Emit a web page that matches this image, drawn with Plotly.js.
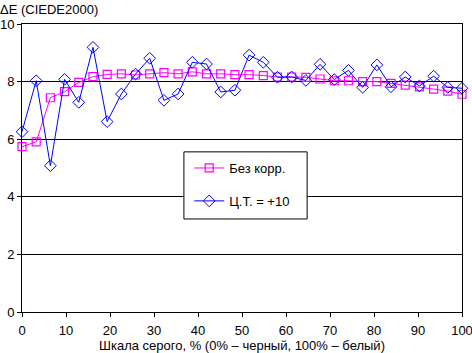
<!DOCTYPE html>
<html>
<head>
<meta charset="utf-8">
<script src="https://cdn.plot.ly/plotly-3.0.1.min.js"></script>
<style>html,body{margin:0;padding:0;background:#fff;}#chart{width:472px;height:353px;}</style>
</head>
<body>
<div id="chart"></div>
<script>
// gray scale levels, % (32 steps)
const grayLevels = [0,3.23,6.45,9.68,12.9,16.13,19.35,22.58,25.81,29.03,32.26,35.48,38.71,41.94,45.16,48.39,51.61,54.84,58.06,61.29,64.52,67.74,70.97,74.19,77.42,80.65,83.87,87.1,90.32,93.55,96.77,100];
const seriesNames = ["Без корр.", "Ц.Т. = +10"];
const noCorr = [5.74,5.91,7.44,7.65,7.97,8.17,8.25,8.27,8.23,8.27,8.31,8.27,8.34,8.27,8.27,8.24,8.24,8.21,8.16,8.16,8.15,8.09,8.03,8.03,8.00,8.00,7.94,7.88,7.82,7.74,7.67,7.56];
const ct10 = [6.26,8.03,5.08,8.08,7.28,9.19,6.61,7.57,8.26,8.81,7.35,7.57,8.67,8.61,7.64,7.70,8.92,8.67,8.15,8.16,8.04,8.60,8.07,8.39,7.80,8.58,7.82,8.16,7.85,8.19,7.80,7.77];
const xTicks = [0,10,20,30,40,50,60,70,80,90,100];
const yTicks = [0,2,4,6,8,10];

const font = {family: "Liberation Sans, Arial, sans-serif", size: 13, color: "#000"};
const traces = [
  {x: grayLevels, y: noCorr, name: seriesNames[0], legendgroup: "a", type: "scatter", mode: "lines+markers", cliponaxis: false,
   line: {color: "#FF00FF", width: 1},
   marker: {symbol: "square-open", size: 8, color: "#FF00FF", line: {width: 1.2, color: "#FF00FF"}}},
  {x: grayLevels, y: ct10, name: seriesNames[1], legendgroup: "b", type: "scatter", mode: "lines+markers", cliponaxis: false,
   line: {color: "#0000FF", width: 1},
   marker: {symbol: "diamond-open", size: 9, color: "#0000FF", line: {width: 1, color: "#0000FF"}}}
];
const layout = {
  width: 472, height: 353,
  margin: {l: 22, r: 10, t: 24, b: 41},
  paper_bgcolor: "#fff", plot_bgcolor: "#fff",
  font: font,
  showlegend: true,
  title: {text: "ΔE (CIEDE2000)", font: font, x: 0, xref: "container", xanchor: "left", y: 0.972, yanchor: "middle", pad: {l: 0}},
  xaxis: {range: [0, 100], tickvals: xTicks, ticktext: xTicks.map(String), ticks: "outside", ticklen: 4, tickcolor: "#000",
          ticklabeloverflow: "allow", ticklabelstandoff: 2,
          showgrid: false, zeroline: false, showline: true, linecolor: "#000", linewidth: 1, mirror: true,
          title: {text: "Шкала серого, % (0% – черный, 100% – белый)", font: font, standoff: 4}, tickfont: font},
  yaxis: {range: [0, 10], tickvals: yTicks, ticktext: yTicks.map(String), ticks: "outside", ticklen: 4, tickcolor: "#000",
          showgrid: true, gridcolor: "#000", gridwidth: 1, zeroline: false, showline: true, linecolor: "#000", linewidth: 1, mirror: true,
          tickfont: font},
  shapes: [{type: "rect", xref: "paper", yref: "paper", x0: 0.368, x1: 0.648, y0: 0.323, y1: 0.556,
            fillcolor: "#fff", line: {color: "#000", width: 1}, layer: "above"}],
  legend: {x: 0.38, y: 0.552, xanchor: "left", yanchor: "top", bgcolor: "rgba(0,0,0,0)", borderwidth: 0,
           font: font, tracegroupgap: 13, itemwidth: 30, traceorder: "grouped"}
};
Plotly.newPlot("chart", traces, layout, {displayModeBar: false, staticPlot: true});
</script>
</body>
</html>
